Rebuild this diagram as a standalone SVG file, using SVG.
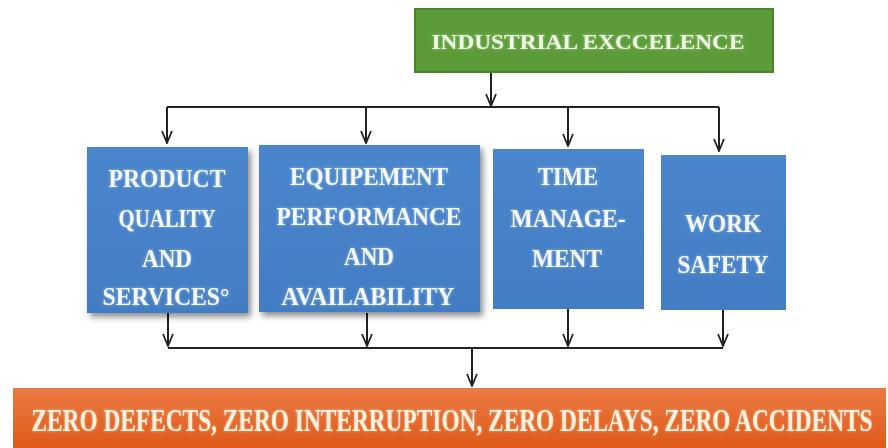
<svg xmlns="http://www.w3.org/2000/svg" width="888" height="448" viewBox="0 0 888 448">
  <defs>
    <marker id="arrow" viewBox="0 0 14 12" refX="13" refY="6" markerWidth="14" markerHeight="12" markerUnits="userSpaceOnUse" orient="auto">
      <path d="M1 1 L13 6 L1 11" fill="none" stroke="#222" stroke-width="1.8"/>
    </marker>
    <linearGradient id="orangeFill" x1="0" y1="0" x2="0" y2="1">
      <stop offset="0" stop-color="#ea7a44"/>
      <stop offset="1" stop-color="#e05a18"/>
    </linearGradient>
    <linearGradient id="blueFill" x1="0" y1="0" x2="0" y2="1">
      <stop offset="0" stop-color="#4b86cc"/>
      <stop offset="1" stop-color="#437dc3"/>
    </linearGradient>
    <filter id="glow" x="-10%" y="-30%" width="120%" height="160%">
      <feGaussianBlur in="SourceAlpha" stdDeviation="1.6" result="b"/>
      <feFlood flood-color="#ffffff" flood-opacity="0.45"/>
      <feComposite in2="b" operator="in" result="halo"/>
      <feMerge>
        <feMergeNode in="halo"/>
        <feMergeNode in="SourceGraphic"/>
      </feMerge>
    </filter>
    <filter id="shadow" x="-10%" y="-10%" width="125%" height="125%">
      <feGaussianBlur in="SourceAlpha" stdDeviation="3"/>
      <feOffset dx="3" dy="4" result="o"/>
      <feComponentTransfer><feFuncA type="linear" slope="0.45"/></feComponentTransfer>
      <feMerge>
        <feMergeNode/>
        <feMergeNode in="SourceGraphic"/>
      </feMerge>
    </filter>
  </defs>
  <style>
    .lbl { font-family: "Liberation Serif", "Times New Roman", serif; font-weight: bold; text-anchor: middle; filter: url(#glow); }
    .blue { fill: url(#blueFill); }
    .blueTxt { fill: #f4f8ff; font-size: 26px; }
    .conn { fill: none; stroke: #222; stroke-width: 2; }
  </style>

  <rect width="888" height="448" fill="#ffffff"/>

  <!-- connectors -->
  <g id="connectors">
    <path class="conn" d="M491 72 V106" marker-end="url(#arrow)"/>
    <path class="conn" d="M167 107 H719"/>
    <path class="conn" d="M167 107 V143" marker-end="url(#arrow)"/>
    <path class="conn" d="M366 107 V143" marker-end="url(#arrow)"/>
    <path class="conn" d="M568 107 V146" marker-end="url(#arrow)"/>
    <path class="conn" d="M719 107 V151" marker-end="url(#arrow)"/>
    <path class="conn" d="M168 313 V346" marker-end="url(#arrow)"/>
    <path class="conn" d="M367 313 V346" marker-end="url(#arrow)"/>
    <path class="conn" d="M568 309 V346" marker-end="url(#arrow)"/>
    <path class="conn" d="M723 309 V346" marker-end="url(#arrow)"/>
    <path class="conn" d="M168 348 H723"/>
    <path class="conn" d="M472 348 V386" marker-end="url(#arrow)"/>
  </g>

  <!-- top goal -->
  <g id="industrial-excellence">
    <rect x="415" y="9" width="358" height="63" fill="#5c9c38" stroke="#4a8229" stroke-width="2"/>
    <text class="lbl" x="588" y="49" font-size="21" fill="#eef8e2" textLength="313" lengthAdjust="spacingAndGlyphs">INDUSTRIAL EXCCELENCE</text>
  </g>

  <!-- pillars -->
  <g id="product-quality">
    <rect class="blue" x="87" y="147" width="161" height="166" filter="url(#shadow)"/>
    <text class="lbl blueTxt" x="167" y="187" textLength="117" lengthAdjust="spacingAndGlyphs">PRODUCT</text>
    <text class="lbl blueTxt" x="167" y="227" textLength="97" lengthAdjust="spacingAndGlyphs">QUALITY</text>
    <text class="lbl blueTxt" x="167" y="267" textLength="50" lengthAdjust="spacingAndGlyphs">AND</text>
    <text class="lbl blueTxt" x="166" y="305" textLength="127" lengthAdjust="spacingAndGlyphs">SERVICES°</text>
  </g>

  <g id="equipment-performance">
    <rect class="blue" x="259" y="145" width="221" height="167" filter="url(#shadow)"/>
    <text class="lbl blueTxt" x="369" y="185" textLength="158" lengthAdjust="spacingAndGlyphs">EQUIPEMENT</text>
    <text class="lbl blueTxt" x="369" y="225" textLength="185" lengthAdjust="spacingAndGlyphs">PERFORMANCE</text>
    <text class="lbl blueTxt" x="369" y="265" textLength="50" lengthAdjust="spacingAndGlyphs">AND</text>
    <text class="lbl blueTxt" x="368" y="305" textLength="173" lengthAdjust="spacingAndGlyphs">AVAILABILITY</text>
  </g>

  <g id="time-management">
    <rect class="blue" x="493" y="149" width="151" height="160"/>
    <text class="lbl blueTxt" x="568" y="185" textLength="60" lengthAdjust="spacingAndGlyphs">TIME</text>
    <text class="lbl blueTxt" x="568" y="227" textLength="115" lengthAdjust="spacingAndGlyphs">MANAGE-</text>
    <text class="lbl blueTxt" x="567" y="267" textLength="70" lengthAdjust="spacingAndGlyphs">MENT</text>
  </g>

  <g id="work-safety">
    <rect class="blue" x="661" y="155" width="125" height="155"/>
    <text class="lbl blueTxt" x="723" y="232" textLength="76" lengthAdjust="spacingAndGlyphs">WORK</text>
    <text class="lbl blueTxt" x="723" y="273" textLength="91" lengthAdjust="spacingAndGlyphs">SAFETY</text>
  </g>

  <!-- outcome: condensed bold line -->
  <g id="zero-targets">
    <rect x="13" y="388" width="873" height="60" fill="url(#orangeFill)"/>
    <text class="lbl" transform="translate(452 431) scale(0.73 1)" x="0" y="0" font-size="32" fill="#fff2dc">ZERO DEFECTS, ZERO INTERRUPTION, ZERO DELAYS, ZERO ACCIDENTS</text>
  </g>
</svg>
